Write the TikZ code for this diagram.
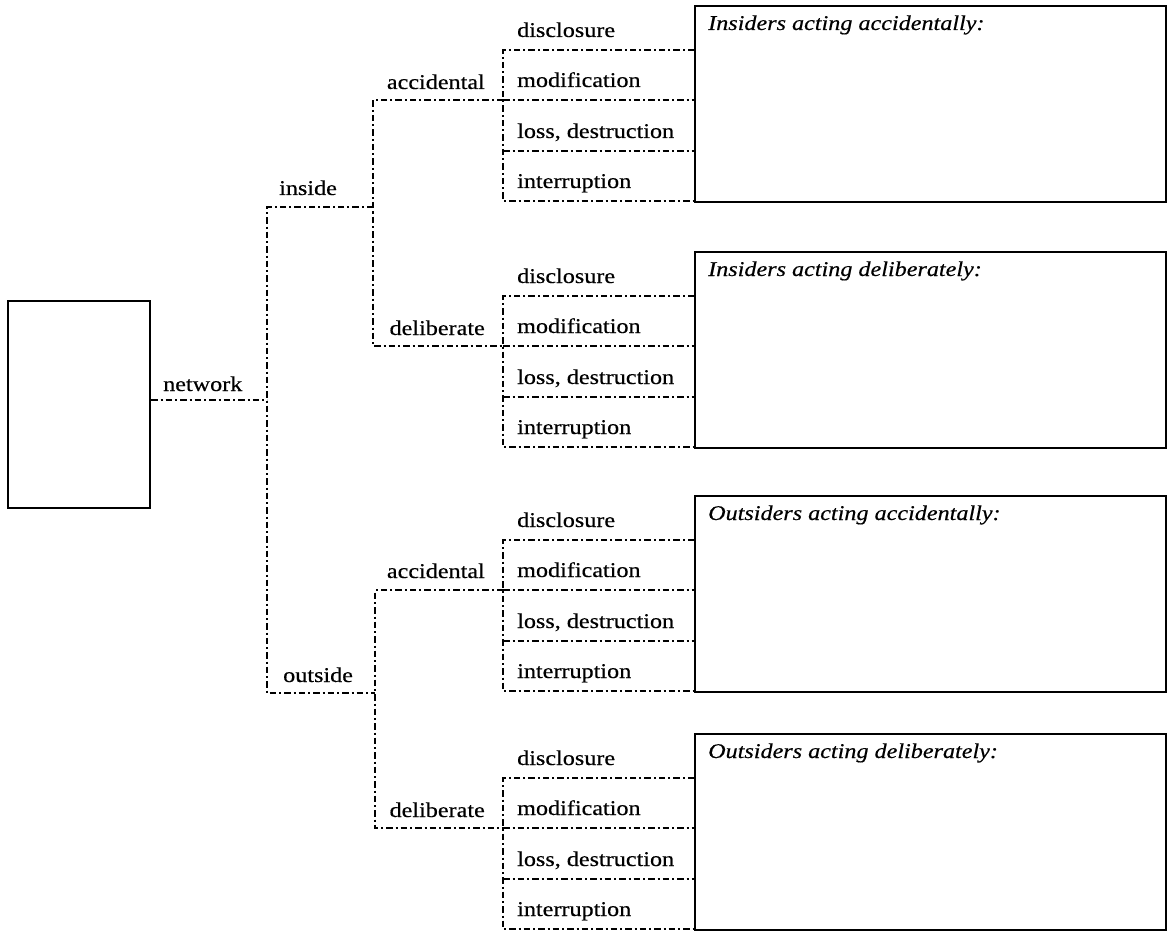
\documentclass[tikz,border=0pt]{standalone}
\usepackage{fontspec}
\setmainfont[FakeStretch=1.15,FakeBold=0.4]{Liberation Serif}
\begin{document}
\begin{tikzpicture}[x=1pt,y=-1pt,
  conn/.style={line width=1.6pt, dash pattern=on 6.5pt off 3pt on 2pt off 3pt},
  frame/.style={draw, line width=2pt, rectangle, inner sep=0pt},
  lbl/.style={font=\fontsize{21}{24}\selectfont, inner sep=0pt, anchor=base west},
  lble/.style={lbl, anchor=base east},
  itl/.style={font=\fontsize{21}{24}\selectfont\itshape, inner sep=0pt, anchor=base west}]
\useasboundingbox (0,0) rectangle (1168,931);

% left box
\node[frame, anchor=north west, minimum width=142pt, minimum height=207pt] (L) at (7,300) {};

% groups of leaves with their boxes
\foreach \g/\y/\t in {1/50/Insiders acting accidentally:,2/296/Insiders acting deliberately:,3/540/Outsiders acting accidentally:,4/778/Outsiders acting deliberately:}{
  \coordinate (ga\g) at (503,\y);
  \coordinate (gb\g) at (503,\y+50);
  \coordinate (gc\g) at (503,\y+101);
  \coordinate (gd\g) at (503,\y+151);
  \node[frame, anchor=north west, minimum width=471pt, minimum height=196pt] (B\g) at (694,\y-45) {};
  \node[itl] (T\g) at (708,\y-20) {\t};
  \node[lbl] (disc\g) at (517,\y-13) {disclosure};
  \node[lbl] (mod\g) at (517,\y+37) {modification};
  \node[lbl] (loss\g) at (517,\y+88) {loss, destruction};
  \node[lbl] (intr\g) at (517,\y+138) {interruption};
  \draw[conn] (ga\g -| B\g.west) -- (ga\g) -- (gd\g) -- (gd\g -| B\g.west);
  \draw[conn] (gb\g) -- (gb\g -| B\g.west);
  \draw[conn] (gc\g) -- (gc\g -| B\g.west);
}

% trunk and brackets
\coordinate (tin) at (267,207);
\coordinate (tout) at (267,693);
\coordinate (tn) at (267,400);
\coordinate (bin) at (373,207);
\coordinate (bout) at (375,693);

\draw[conn] (L.east |- tn) -- (tn);
\draw[conn] (bin) -- (tin) -- (tout) -- (bout);
\draw[conn] (gb1) -- (gb1 -| bin) -- (gb2 -| bin) -- (gb2);
\draw[conn] (gb3) -- (gb3 -| bout) -- (gb4 -| bout) -- (gb4);

% branch labels
\node[lbl] (net) at (163,391) {network};
\node[lbl] (ins) at (279,195) {inside};
\node[lbl] (outs) at (283,682) {outside};
\node[lble] (acc1) at (485,89) {accidental};
\node[lble] (del1) at (485,335) {deliberate};
\node[lble] (acc2) at (485,578) {accidental};
\node[lble] (del2) at (485,817) {deliberate};
\end{tikzpicture}
\end{document}
